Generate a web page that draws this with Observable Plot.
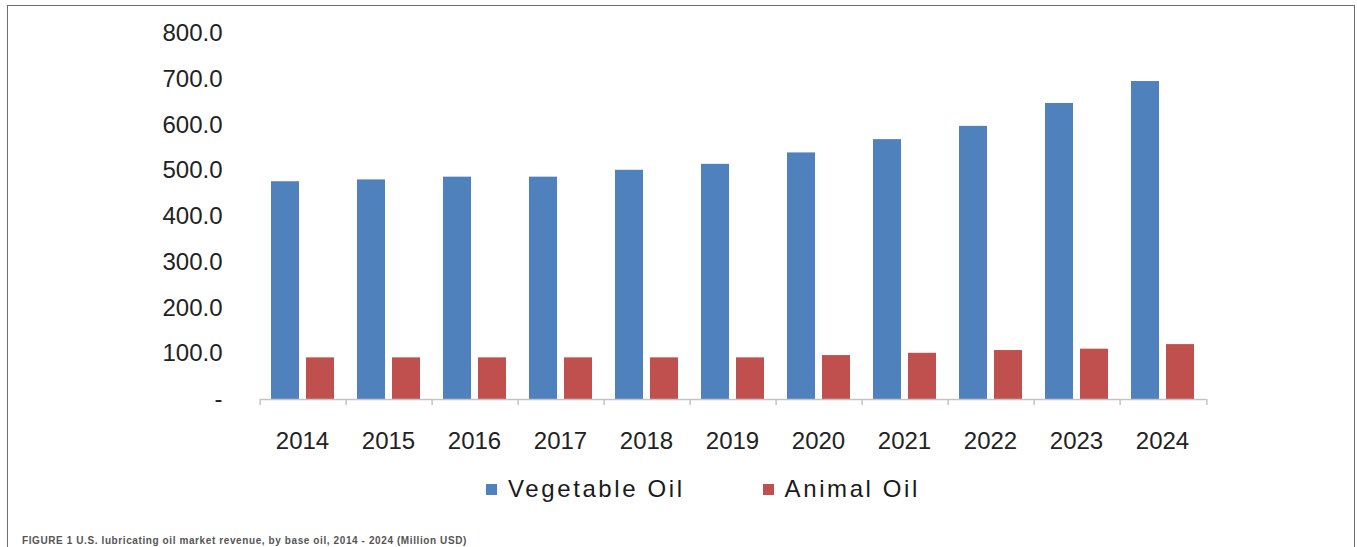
<!DOCTYPE html>
<html>
<head>
<meta charset="utf-8">
<script src="https://cdn.jsdelivr.net/npm/d3@7"></script>
<script src="https://cdn.jsdelivr.net/npm/@observablehq/plot@0.6"></script>
<style>
  html, body { margin: 0; padding: 0; background: #fff; overflow: hidden; }
  body { width: 1357px; height: 547px; position: relative; font-family: "Liberation Sans", Arial, sans-serif; }
  #frame { position: absolute; left: 7px; top: 5px; width: 1346px; height: 700px;
           border: 1.5px solid #6f6f6f; border-bottom: none; pointer-events: none; }
  #chart svg { display: block; }
  #legend { height: 38px; display: flex; align-items: center; padding-left: 486px;
            font-size: 24px; letter-spacing: 2.6px; color: #1a1a1a; }
  .item { display: flex; align-items: center; }
  .sw { width: 11px; height: 11px; margin-right: 11px; }
  #caption { padding: 28px 0 0 22px; font-size: 10px; line-height: 10px; letter-spacing: 0.6px;
             font-weight: bold; color: #555; white-space: nowrap; }
</style>
</head>
<body>
<div id="frame"></div>
<div id="chart"></div>
<div id="legend"></div>
<div id="caption"></div>
<script>
const years = ["2014","2015","2016","2017","2018","2019","2020","2021","2022","2023","2024"];
const vegetableOil = [476, 480, 486, 486, 501, 514, 539, 568, 597, 647, 695];
const animalOil = [91, 91, 91, 91, 91, 91, 96, 101, 107, 110, 120];
const seriesNames = ["Vegetable Oil", "Animal Oil"];
const seriesColors = ["#4f81bd", "#c0504d"];
const yTicks = [0, 100, 200, 300, 400, 500, 600, 700, 800];
const captionText = "FIGURE 1 U.S. lubricating oil market revenue, by base oil, 2014 - 2024 (Million USD)";

const data = [];
years.forEach((y, i) => {
  data.push({year: y, series: seriesNames[0], value: vegetableOil[i]});
  data.push({year: y, series: seriesNames[1], value: animalOil[i]});
});

const W = 1357, H = 470, mL = 256, mR = 147, mT = 33, mB = 71;
const step = (W - mL - mR) / years.length;

const chart = Plot.plot({
  width: W, height: H,
  marginLeft: mL, marginRight: mR, marginTop: mT, marginBottom: mB,
  style: {fontFamily: "'Liberation Sans', Arial, sans-serif", fontSize: "24px", color: "#222", background: "#fff"},
  fx: {domain: years, padding: 0, axis: null, label: null},
  x: {domain: seriesNames, paddingInner: 0.197, paddingOuter: 0.32, axis: null, label: null},
  y: {domain: [0, 800], axis: null, label: null},
  color: {domain: seriesNames, range: seriesColors},
  marks: [
    Plot.axisY({ticks: yTicks, tickSize: 0, tickPadding: 38, label: null,
      tickFormat: d => d === 0 ? "-" : d3.format(".1f")(d), style: {letterSpacing: "1.2px"}}),
    Plot.barY(data, {fx: "year", x: "series", y: "value", fill: "series"}),
    Plot.ruleY([0], {stroke: "#c4c4c4", strokeWidth: 1.5}),
    Plot.axisFx({anchor: "bottom", tickSize: 0, tickPadding: 32, label: null, dx: -1, style: {letterSpacing: "1.5px"}}),
    Plot.axisFx({anchor: "bottom", tickSize: 6, text: null, label: null, dx: -step / 2, stroke: "#c4c4c4", strokeWidth: 1.5}),
    Plot.axisFx({anchor: "bottom", ticks: [years[years.length - 1]], tickSize: 6, text: null, label: null, dx: step / 2, stroke: "#c4c4c4", strokeWidth: 1.5})
  ]
});
document.getElementById("chart").appendChild(chart);

const legend = document.getElementById("legend");
seriesNames.forEach((name, i) => {
  const item = document.createElement("div");
  item.className = "item";
  if (i > 0) item.style.marginLeft = "78px";
  const sw = document.createElement("div");
  sw.className = "sw";
  sw.style.background = seriesColors[i];
  const t = document.createElement("span");
  t.textContent = name;
  item.appendChild(sw);
  item.appendChild(t);
  legend.appendChild(item);
});
document.getElementById("caption").textContent = captionText;
</script>
</body>
</html>
